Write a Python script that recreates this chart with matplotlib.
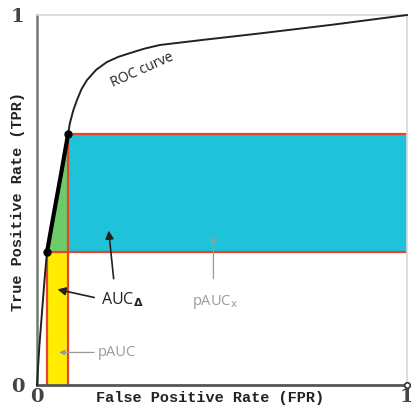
import matplotlib
matplotlib.use("Agg")
import matplotlib.pyplot as plt
import numpy as np

# ROC curve points
roc_fpr = [0.0, 0.006, 0.013, 0.020, 0.027, 0.045, 0.065, 0.084, 0.089, 0.098, 0.108, 0.120, 0.135, 0.160, 0.189, 0.220, 0.251, 0.290, 0.332, 0.450, 0.600, 0.800, 1.0]
roc_tpr = [0.0, 0.10, 0.19, 0.28, 0.359, 0.46, 0.57, 0.678, 0.708, 0.742, 0.770, 0.799, 0.824, 0.852, 0.873, 0.887, 0.897, 0.909, 0.919, 0.933, 0.950, 0.974, 1.0]

fpr_bounds = [0.027, 0.084]
tpr_bounds = [0.359, 0.678]

tick_labels = ["0", "1"]

c_cyan = "#1ec3d9"
c_yellow = "#ffec00"
c_green = "#6dcb6a"
c_red = "#e4452b"

fig = plt.figure(figsize=(4.11, 4.12), dpi=100)
ax = fig.add_axes([0.09, 0.0655, 0.9, 0.898])
ax.set_xlim(0, 1)
ax.set_ylim(0, 1)

f1, f2 = fpr_bounds
t1, t2 = tpr_bounds

# regions
ax.fill_between([f1, f2], 0, t1, color=c_yellow, zorder=1, lw=0)
ax.fill_between([f2, 1], t1, t2, color=c_cyan, zorder=1, lw=0)
seg_x = [x for x in roc_fpr if f1 <= x <= f2]
seg_y = [y for x, y in zip(roc_fpr, roc_tpr) if f1 <= x <= f2]
ax.fill(seg_x + [f2], seg_y + [t1], color=c_green, zorder=1, lw=0)

# red borders
ax.plot([f1, f1], [0, t1], color=c_red, lw=1.6, zorder=2)
ax.plot([f2, f2], [0, t2], color=c_red, lw=1.6, zorder=2)
ax.plot([f1, 1], [t1, t1], color=c_red, lw=1.6, zorder=2)
ax.plot([f2, 1], [t2, t2], color=c_red, lw=1.6, zorder=2)

# ROC curve
ax.plot(roc_fpr, roc_tpr, color="#222222", lw=1.4, zorder=3, clip_on=False)
ax.plot(seg_x, seg_y, color="black", lw=3.0, zorder=4, solid_capstyle="round")
ax.plot([f1, f2], [t1, t2], "o", color="black", ms=5, zorder=5)

ax.text(0.285, 0.852, "ROC curve", rotation=24, ha="center", va="center",
        fontsize=10, family="Open Sans", color="#222222")

# annotations
ax.annotate("", xy=(0.193, 0.425), xytext=(0.208, 0.28),
            arrowprops=dict(arrowstyle="-|>", color="#222222", lw=1.2, mutation_scale=12))
ax.annotate("", xy=(0.048, 0.26), xytext=(0.162, 0.235),
            arrowprops=dict(arrowstyle="-|>", color="#222222", lw=1.2, mutation_scale=12))
ax.text(0.172, 0.232, r"AUC$_{\mathbf{\Delta}}$", fontsize=11.5, family="Open Sans",
        color="#222222", va="center", ha="left")

ax.annotate("", xy=(0.477, 0.41), xytext=(0.477, 0.28),
            arrowprops=dict(arrowstyle="-|>", color="#9a9a9a", lw=0.9, mutation_scale=8))
ax.text(0.48, 0.225, r"pAUC$_{\mathrm{x}}$", fontsize=10.5, family="Open Sans",
        color="#9a9a9a", va="center", ha="center")

ax.annotate("", xy=(0.052, 0.088), xytext=(0.162, 0.088),
            arrowprops=dict(arrowstyle="-|>", color="#9a9a9a", lw=0.9, mutation_scale=8))
ax.text(0.165, 0.088, "pAUC", fontsize=10.5, family="Open Sans",
        color="#9a9a9a", va="center", ha="left")

# spines
for s in ["top", "right"]:
    ax.spines[s].set_color("#d8d8d8")
    ax.spines[s].set_linewidth(1.2)
ax.spines["left"].set_color("#777777")
ax.spines["left"].set_linewidth(1.8)
ax.spines["bottom"].set_color("#555555")
ax.spines["bottom"].set_linewidth(2.0)
ax.plot([1], [0], "o", ms=4, mfc="white", mec="#333333", mew=1.2, clip_on=False, zorder=6)

ax.set_xticks([0, 1])
ax.set_yticks([0, 1])
ax.set_xticklabels(tick_labels, fontsize=14, family="DejaVu Serif", fontweight="bold", color="#444444")
ax.set_yticklabels(tick_labels, fontsize=14, family="DejaVu Serif", fontweight="bold", color="#444444")
ax.tick_params(axis="x", length=0, pad=2)
ax.tick_params(axis="y", length=0, pad=9)
fig.text(0.51, 0.033, "False Positive Rate (FPR)", fontsize=11, family="Liberation Mono",
         fontweight="bold", color="#222222", ha="center", va="center")
fig.text(0.045, 0.51, "True Positive Rate (TPR)", fontsize=11, family="Liberation Mono",
         fontweight="bold", color="#222222", ha="center", va="center", rotation=90)

fig.savefig("out.png", dpi=100, facecolor="white")
